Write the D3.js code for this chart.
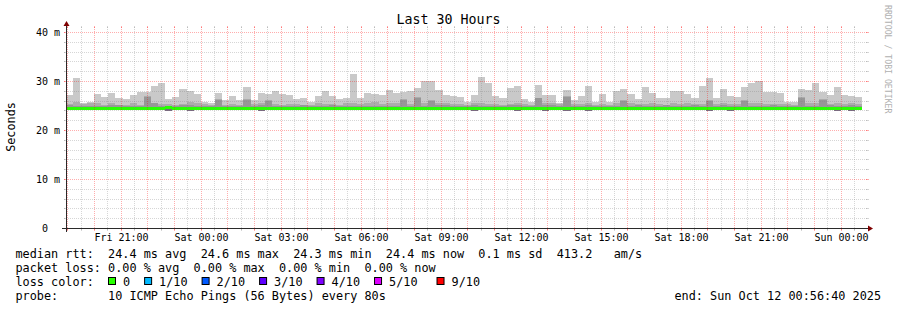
<!DOCTYPE html>
<html><head><meta charset="utf-8">
<script src="https://cdn.jsdelivr.net/npm/d3@7"></script>
<style>
html,body{margin:0;padding:0;background:#fff;}
svg{display:block;}
text{font-family:"DejaVu Sans Mono",monospace;fill:#000;white-space:pre;}
</style></head><body>
<svg id="c" width="897" height="310"></svg>
<script>
// ---------- data ----------
const chartTitle = "Last 30 Hours";
const yAxisTitle = "Seconds";
const yTickValues = [0, 10, 20, 30, 40];
const yTickLabels = ["0  ", "10 m", "20 m", "30 m", "40 m"];
const yMax = 40.8;
const endTime = new Date(2025, 9, 12, 0, 56, 40);
const spanHours = 30;
const firstBar = new Date(2025, 9, 10, 18, 56, 0);
const stepMinutes = 16;

// highest ping per 16-minute bin (ms)
const maxRtt = [27.2,30.5,25.5,25.8,27.4,26.7,27.6,26.5,26.3,27.2,27.8,27.8,29.0,29.5,26.3,26.7,28.4,28.0,27.4,25.8,25.6,27.6,
  26.1,26.9,26.1,28.8,26.1,27.6,27.4,28.0,27.4,27.2,26.3,26.5,25.8,26.9,28.0,27.0,26.3,26.6,31.5,26.5,27.6,27.4,27.2,
  28.1,27.6,27.8,28.0,28.6,29.9,30.0,28.2,27.2,27.0,26.8,25.8,27.2,30.9,29.6,27.0,26.6,28.6,29.0,26.4,25.8,29.2,
  27.2,27.2,25.4,28.2,26.2,27.0,29.0,25.8,27.4,25.8,28.0,28.4,27.4,26.4,28.8,27.6,26.6,26.6,28.0,28.0,27.4,26.6,
  29.0,30.5,26.6,28.4,27.0,26.8,28.8,29.6,30.0,27.8,27.8,27.6,25.8,25.8,28.4,28.2,29.6,27.8,27.2,28.8,27.2,27.0,26.8];
// 9th of 10 sorted pings (ms)
const ping9 = [25.3,25.7,25.3,25.5,25.5,25.1,25.4,25.1,25.0,25.4,25.1,26.9,25.5,25.2,25.3,25.0,25.3,25.7,25.5,25.3,25.1,26.3,
  25.1,25.2,25.1,26.3,25.2,25.4,26.1,25.2,25.0,25.3,25.3,25.0,25.1,25.5,25.2,25.3,25.0,25.4,25.6,25.3,25.5,25.7,25.2,
  25.4,25.5,26.3,25.3,26.7,25.4,26.1,25.6,25.5,25.3,25.2,25.0,25.4,25.6,25.3,25.2,25.1,25.3,25.6,25.2,25.0,26.6,
  25.5,25.5,25.2,26.9,25.3,25.3,25.5,25.1,25.3,25.1,25.4,26.1,25.4,25.2,25.3,25.5,25.2,25.1,25.4,25.3,25.5,25.2,
  25.3,26.1,25.3,25.5,25.2,25.3,26.1,25.5,25.4,25.3,25.2,25.3,25.2,25.1,26.7,25.4,25.5,26.3,25.3,25.5,25.2,25.4,25.2];
// 8th of 10 sorted pings (ms)
const ping8 = [25.1,24.9,24.9,24.9,24.9,24.9,25.1,25.1,24.9,24.9,24.9,26.8,25.5,24.9,24.9,24.9,25.1,25.1,24.9,24.9,24.9,26.2,
  24.9,24.9,24.9,26.2,24.9,25.1,26.0,24.9,24.9,24.9,24.9,25.1,24.9,24.9,24.9,25.1,24.9,24.9,24.9,24.9,24.9,24.9,24.9,
  24.9,24.9,26.2,24.9,26.6,24.9,26.0,25.1,25.1,24.9,24.9,24.9,25.1,24.9,24.9,24.9,24.9,25.1,25.1,24.9,24.9,26.5,
  25.1,25.1,24.9,26.8,24.9,24.9,25.1,24.9,24.9,24.9,24.9,26.0,24.9,25.1,24.9,24.9,24.9,25.1,24.9,24.9,24.9,25.1,
  24.9,26.0,24.9,25.1,24.9,24.9,26.0,24.9,24.9,24.9,25.1,24.9,24.9,24.9,26.6,24.9,24.9,26.2,25.1,24.9,24.9,25.1,24.9];
// median rtt (ms)
const medianRtt = [24.4,24.4,24.4,24.4,24.4,24.4,24.4,24.4,24.4,24.4,24.4,24.4,24.4,24.4,24.5,24.4,24.4,24.4,24.4,24.4,24.4,24.4,
  24.4,24.4,24.4,24.4,24.4,24.4,24.4,24.4,24.4,24.4,24.4,24.4,24.4,24.4,24.4,24.4,24.4,24.4,24.4,24.4,24.4,24.4,24.4,
  24.4,24.4,24.4,24.4,24.4,24.4,24.4,24.4,24.4,24.4,24.4,24.4,24.4,24.4,24.4,24.4,24.4,24.4,24.4,24.4,24.4,24.4,
  24.4,24.4,24.4,24.4,24.4,24.4,24.4,24.4,24.4,24.4,24.4,24.4,24.4,24.4,24.4,24.4,24.4,24.4,24.4,24.4,24.4,24.4,
  24.4,24.4,24.4,24.4,24.4,24.4,24.4,24.4,24.4,24.4,24.4,24.4,24.4,24.4,24.4,24.4,24.4,24.4,24.4,24.4,24.4,24.4,24.4];
// lowest ping (ms)
const minRtt = [24.3,24.3,24.3,24.3,24.3,24.3,24.3,24.3,24.3,24.3,24.3,24.3,24.3,24.3,23.9,24.3,24.3,23.9,24.3,24.3,24.3,24.3,
  24.3,24.3,24.3,24.3,24.3,23.9,24.3,24.3,24.3,24.3,24.3,24.3,24.3,24.3,24.3,24.3,24.3,24.3,24.3,24.3,24.3,24.3,24.3,
  24.3,24.3,24.3,24.3,24.3,24.3,24.3,24.3,24.3,24.3,24.3,24.3,23.9,24.3,24.3,24.3,24.3,24.3,23.9,24.3,24.3,24.3,
  23.9,24.3,24.3,23.9,24.3,24.3,23.9,24.3,24.3,24.3,24.3,24.3,24.3,24.3,24.3,24.3,24.3,24.3,24.3,24.3,24.3,24.3,
  24.3,23.9,24.3,24.3,23.9,24.3,24.3,24.3,24.3,24.3,24.3,24.3,24.3,24.3,24.3,24.3,24.3,24.3,24.3,23.9,24.3,23.9,24.3];

const rttStats = [24.4, 24.6, 24.3, 24.4];   // avg max min now
const rttSd = 0.1;
const rttAmS = 413.2;
const lossStats = [0, 0, 0, 0];
const lossLabels = ["0", "1/10", "2/10", "3/10", "4/10", "5/10", "9/10"];
const lossColors = ["#26ff00", "#00b8ff", "#0059ff", "#5e00ff", "#7e00ff", "#dd00ff", "#ff0000"];
const probeText = "10 ICMP Echo Pings (56 Bytes) every 80s";

// ---------- drawing ----------
const W = 897, H = 310;
const X0 = 66, X1 = 866, Y0 = 228, Y1 = 28;
const startTime = new Date(endTime.getTime() - spanHours * 3600e3);
const x = d3.scaleTime().domain([startTime, endTime]).range([X0, X1]);
const y = d3.scaleLinear().domain([0, yMax]).range([Y0, Y1]);
const px = v => Math.round(v) + 0.5;

const svg = d3.select("#c");
svg.append("rect").attr("width", W).attr("height", H).attr("fill", "#fff");
svg.append("defs").append("clipPath").attr("id", "plot")
  .append("rect").attr("x", X0 + 1).attr("y", Y1).attr("width", X1 - X0).attr("height", Y0 - Y1);

const step = stepMinutes * 60e3;
const bars = maxRtt.map((m, i) => ({
  t0: new Date(firstBar.getTime() + i * step),
  t1: new Date(firstBar.getTime() + (i + 1) * step),
  max: m, p9: ping9[i], p8: ping8[i], med: medianRtt[i], min: minRtt[i]
}));
const g = svg.append("g").attr("clip-path", "url(#plot)").attr("shape-rendering", "crispEdges");
const bx = d => Math.round(x(d.t0));
const bw = d => Math.round(x(d.t1)) - Math.round(x(d.t0));
function layer(lo, hi, color) {
  g.append("g").selectAll("rect").data(bars).join("rect")
    .attr("x", bx).attr("width", bw)
    .attr("y", d => Math.round(y(hi(d))))
    .attr("height", d => Math.max(0, Math.round(y(lo(d))) - Math.round(y(hi(d)))))
    .attr("fill", color);
}
layer(d => d.med, d => d.max, "#c9c9c9");
layer(d => d.med, d => d.p9, "#acacac");
layer(d => d.med, d => d.p8, "#979797");
layer(d => d.min, d => d.med, "#7a6680");
g.append("g").selectAll("rect").data(bars).join("rect")
  .attr("x", bx).attr("width", bw)
  .attr("y", d => Math.round(y(d.med) - 1.5)).attr("height", 3)
  .attr("fill", lossColors[0]);

// grid
const minorCol = "rgba(128,128,128,0.32)", majorCol = "rgba(255,0,0,0.32)";
const grid = svg.append("g").attr("shape-rendering", "crispEdges");
function vline(xx, col) {
  const xp = px(xx);
  grid.append("line").attr("x1", xp).attr("x2", xp).attr("y1", Y0 + 2).attr("y2", Y1 - 2)
    .attr("stroke", col).attr("stroke-dasharray", "1,1");
  grid.append("line").attr("x1", xp).attr("x2", xp).attr("y1", Y0).attr("y2", Y0 + 2.5).attr("stroke", col);
  grid.append("line").attr("x1", xp).attr("x2", xp).attr("y1", Y1 - 2.5).attr("y2", Y1).attr("stroke", col);
}
function hline(yy, col) {
  const yp = px(yy);
  grid.append("line").attr("x1", X0 - 2).attr("x2", X1 + 2).attr("y1", yp).attr("y2", yp)
    .attr("stroke", col).attr("stroke-dasharray", "1,1");
  grid.append("line").attr("x1", X0 - 2.5).attr("x2", X0).attr("y1", yp).attr("y2", yp).attr("stroke", col);
  grid.append("line").attr("x1", X1).attr("x2", X1 + 2.5).attr("y1", yp).attr("y2", yp).attr("stroke", col);
}
d3.timeMinute.every(30).range(startTime, endTime).forEach(t => {
  vline(x(t), t.getMinutes() === 0 ? majorCol : minorCol);
});
d3.range(2, yMax, 2).forEach(v => hline(y(v), Math.round(v) % 10 === 0 ? majorCol : minorCol));

// axes
const axCol = "#2a2a2a", arrowCol = "#7f0000";
svg.append("line").attr("x1", X0 - 4).attr("x2", X1 + 4).attr("y1", Y0 + 0.5).attr("y2", Y0 + 0.5)
  .attr("stroke", axCol).attr("shape-rendering", "crispEdges");
svg.append("line").attr("x1", X0 + 0.5).attr("x2", X0 + 0.5).attr("y1", Y0 + 4).attr("y2", Y1 - 4)
  .attr("stroke", axCol).attr("shape-rendering", "crispEdges");
svg.append("polygon").attr("points", `${X1 + 2},${Y0 + 0.5 - 3} ${X1 + 2},${Y0 + 0.5 + 3} ${X1 + 7},${Y0 + 0.5}`).attr("fill", arrowCol);
svg.append("polygon").attr("points", `${X0 + 0.5 - 3},${Y1 - 2} ${X0 + 0.5 + 3},${Y1 - 2} ${X0 + 0.5},${Y1 - 7}`).attr("fill", arrowCol);

// y labels
yTickValues.forEach((v, i) => {
  svg.append("text").attr("x", 60).attr("y", px(y(v)) + 3.5).attr("text-anchor", "end")
    .attr("font-size", "10px").text(yTickLabels[i]);
});
// x labels
const fmt = d3.timeFormat("%a %H:%M");
d3.timeHour.every(3).range(startTime, endTime).forEach(t => {
  svg.append("text").attr("x", px(x(t))).attr("y", 241).attr("text-anchor", "middle")
    .attr("font-size", "10px").text(fmt(t));
});

// titles
svg.append("text").attr("x", 448.5).attr("y", 24).attr("text-anchor", "middle")
  .attr("font-size", "13.3px").text(chartTitle);
svg.append("text").attr("transform", "translate(15,127) rotate(-90)").attr("text-anchor", "middle")
  .attr("font-size", "11.8px").text(yAxisTitle);
svg.append("text").attr("transform", "translate(885,5) rotate(90)")
  .attr("font-size", "8.2px").style("fill", "#b0b0b0").text("RRDTOOL / TOBI OETIKER");

// legend
const LF = "11.83px", CW = 7.12, LX = 15.5;
const f1 = v => v.toFixed(1), f2 = v => v.toFixed(2);
const line1 = `median rtt:  ${f1(rttStats[0])} ms avg  ${f1(rttStats[1])} ms max  ${f1(rttStats[2])} ms min  ${f1(rttStats[3])} ms now  ${f1(rttSd)} ms sd  ${f1(rttAmS)}   am/s`;
const line2 = `packet loss: ${f2(lossStats[0])} % avg  ${f2(lossStats[1])} % max  ${f2(lossStats[2])} % min  ${f2(lossStats[3])} % now`;
svg.append("text").attr("x", LX).attr("y", 257.5).attr("font-size", LF).text(line1);
svg.append("text").attr("x", LX).attr("y", 271.5).attr("font-size", LF).text(line2);
svg.append("text").attr("x", LX).attr("y", 285.5).attr("font-size", LF).text("loss color:");
let lx = 108;
lossLabels.forEach((lab, i) => {
  if (i === lossLabels.length - 1) lx += 5;
  svg.append("rect").attr("x", lx + 0.5).attr("y", 277.5).attr("width", 7).attr("height", 7)
    .attr("fill", lossColors[i]).attr("stroke", "#000").attr("stroke-width", 1);
  svg.append("text").attr("x", lx + 15).attr("y", 285.5).attr("font-size", LF).text(lab);
  lx += 15 + lab.length * CW + 14;
});
svg.append("text").attr("x", LX).attr("y", 299.5).attr("font-size", LF).text("probe:       " + probeText);
svg.append("text").attr("x", 881).attr("y", 299.5).attr("text-anchor", "end").attr("font-size", LF)
  .text("end: " + d3.timeFormat("%a %b %d %H:%M:%S %Y")(endTime));
</script>
</body></html>
